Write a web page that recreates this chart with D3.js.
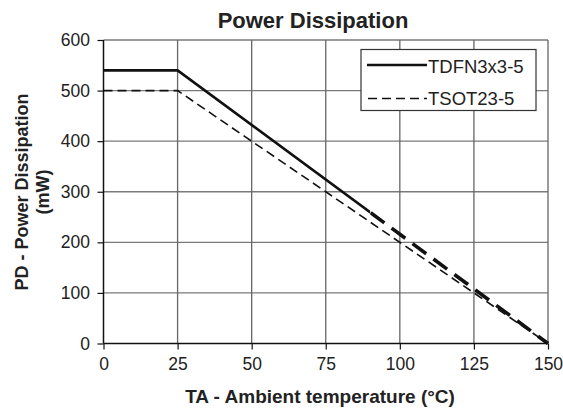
<!DOCTYPE html>
<html><head><meta charset="utf-8">
<script src="https://cdn.jsdelivr.net/npm/d3@7"></script>
<style>
html,body{margin:0;padding:0;background:#fff;}
svg{display:block;font-family:"Liberation Sans",Arial,sans-serif;}
</style></head>
<body><svg id="c" width="563" height="409"></svg>
<script>
const temps = [0, 25, 150];
const tdfnValues = [540, 540, 0];
const tsotValues = [500, 500, 0];
const seriesNames = ["TDFN3x3-5", "TSOT23-5"];
const xTicks = [0, 25, 50, 75, 100, 125, 150];
const yTicks = [0, 100, 200, 300, 400, 500, 600];
const tdfnSolidUntil = 90; // TDFN line turns into heavy dashes after this temperature

const svg = d3.select("#c");
const m = {l: 103.5, r: 548, t: 40, b: 343.5};
const x = d3.scaleLinear().domain([0, 150]).range([m.l, m.r]);
const y = d3.scaleLinear().domain([0, 600]).range([m.b, m.t]);

// gridlines
svg.append("g").selectAll("line").data(yTicks.filter(d => d > 0)).join("line")
  .attr("x1", m.l).attr("x2", m.r).attr("y1", d => y(d)).attr("y2", d => y(d))
  .attr("stroke", "#7a7a7a").attr("stroke-width", 1.3);
svg.append("g").selectAll("line").data(xTicks.filter(d => d > 0)).join("line")
  .attr("x1", d => x(d)).attr("x2", d => x(d)).attr("y1", m.t).attr("y2", m.b)
  .attr("stroke", "#666").attr("stroke-width", 1.3);

// axes
const xAxis = svg.append("g").attr("transform", `translate(0,${m.b})`)
  .call(d3.axisBottom(x).tickValues(xTicks).tickSize(6).tickPadding(8));
const yAxis = svg.append("g").attr("transform", `translate(${m.l},0)`)
  .call(d3.axisLeft(y).tickValues(yTicks).tickSize(6).tickPadding(7.5));
[xAxis, yAxis].forEach(a => {
  a.select(".domain").attr("stroke", "#111").attr("stroke-width", 1.5);
  a.selectAll(".tick line").attr("stroke", "#111").attr("stroke-width", 1.2);
  a.selectAll(".tick text").attr("font-size", 17.5).attr("fill", "#222")
    .attr("font-family", '"Liberation Sans",Arial,sans-serif');
});
xAxis.select(".domain").attr("d", `M${m.l},0H${m.r}`);
yAxis.select(".domain").attr("d", `M0,${m.b}V${m.t}`);

// lines
const line = d3.line().x((d, i) => x(temps[i])).y(d => y(d));
const defs = svg.append("defs");
defs.append("clipPath").attr("id", "solidClip").append("rect")
  .attr("x", 0).attr("y", 0).attr("width", x(tdfnSolidUntil)).attr("height", 409);
defs.append("clipPath").attr("id", "dashClip").append("rect")
  .attr("x", x(tdfnSolidUntil)).attr("y", 0).attr("width", 563).attr("height", 409);

svg.append("path").datum(tsotValues).attr("d", line)
  .attr("fill", "none").attr("stroke", "#111").attr("stroke-width", 1.6)
  .attr("stroke-dasharray", "9,5");
svg.append("path").datum(tdfnValues).attr("d", line).attr("clip-path", "url(#solidClip)")
  .attr("fill", "none").attr("stroke", "#111").attr("stroke-width", 2.6);
svg.append("path").datum(tdfnValues).attr("d", line).attr("clip-path", "url(#dashClip)")
  .attr("fill", "none").attr("stroke", "#111").attr("stroke-width", 3.6)
  .attr("stroke-dasharray", "17,9").attr("stroke-dashoffset", -340);

// legend
const lg = svg.append("g");
lg.append("rect").attr("x", 361).attr("y", 49.5).attr("width", 175).attr("height", 61)
  .attr("fill", "#fff").attr("stroke", "#333").attr("stroke-width", 1.2);
lg.append("line").attr("x1", 367).attr("x2", 427).attr("y1", 65).attr("y2", 65)
  .attr("stroke", "#111").attr("stroke-width", 2.6);
lg.append("line").attr("x1", 368).attr("x2", 427).attr("y1", 98.5).attr("y2", 98.5)
  .attr("stroke", "#111").attr("stroke-width", 1.6).attr("stroke-dasharray", "9,5");
lg.selectAll("text").data(seriesNames).join("text")
  .attr("x", 428).attr("y", (d, i) => i === 0 ? 73 : 105)
  .attr("font-size", 18.5).attr("fill", "#222").text(d => d);

// titles
svg.append("text").attr("x", 313).attr("y", 28).attr("text-anchor", "middle")
  .attr("font-size", 22).attr("font-weight", "bold").attr("fill", "#222").text("Power Dissipation");
svg.append("text").attr("x", 320).attr("y", 403).attr("text-anchor", "middle")
  .attr("font-size", 19).attr("font-weight", "bold").attr("fill", "#222")
  .text("TA - Ambient temperature (°C)");
const yl = svg.append("text").attr("transform", "translate(28,192) rotate(-90)")
  .attr("text-anchor", "middle").attr("font-size", 18).attr("font-weight", "bold").attr("fill", "#222");
yl.append("tspan").attr("x", 0).attr("y", 0).text("PD - Power Dissipation");
yl.append("tspan").attr("x", 0).attr("y", 21).text("(mW)");
</script></body></html>
